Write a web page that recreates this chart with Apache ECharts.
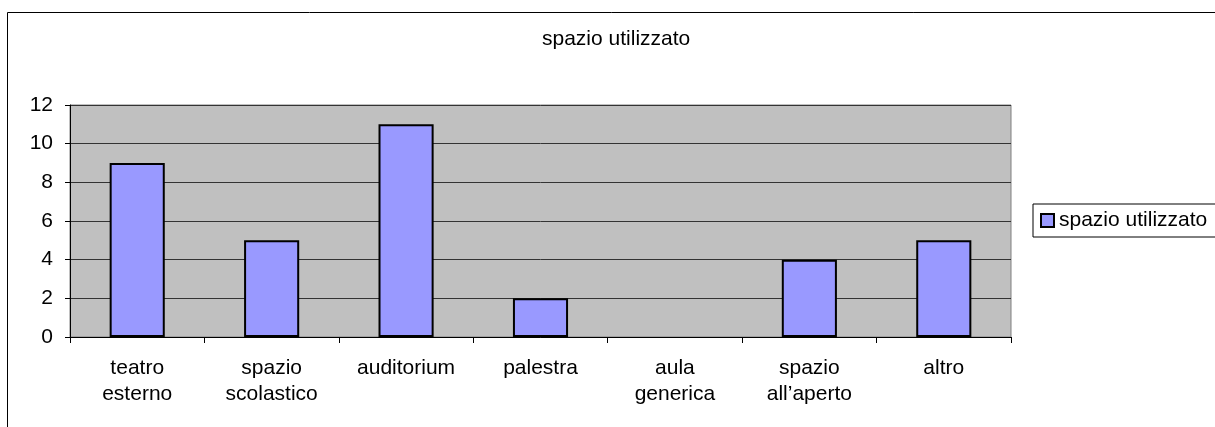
<!DOCTYPE html>
<html>
<head>
<meta charset="utf-8">
<script src="https://cdn.jsdelivr.net/npm/echarts@6/dist/echarts.min.js"></script>
<style>
  html, body { margin: 0; padding: 0; background: #fff; }
  #chart { width: 1215px; height: 427px; }
</style>
</head>
<body>
<div id="chart"></div>
<script>
const categories = ['teatro\nesterno', 'spazio\nscolastico', 'auditorium', 'palestra', 'aula\ngenerica', 'spazio\nall\u2019aperto', 'altro'];
const values = [9, 5, 11, 2, 0, 4, 5];
const seriesName = 'spazio utilizzato';
const yTicks = { min: 0, max: 12, interval: 2 };

const font = 'Liberation Sans, Arial, sans-serif';
const chart = echarts.init(document.getElementById('chart'), null, { renderer: 'canvas' });

// zero bars: no outline, like the original
const barData = values.map((v) => (v === 0 ? { value: v, itemStyle: { borderWidth: 0 } } : v));

chart.setOption({
  animation: false,
  backgroundColor: '#fff',
  title: {
    text: 'spazio utilizzato',
    left: 542,
    top: 29,
    padding: 0,
    textStyle: { fontFamily: font, fontSize: 21, fontWeight: 'normal', color: '#000' },
  },
  graphic: [{
    type: 'rect',
    shape: { x: 7.5, y: 12.5, width: 1400, height: 600 },
    style: { fill: 'none', stroke: '#000', lineWidth: 1 },
    z: -1,
  }],
  legend: {
    data: [seriesName],
    left: 1033,
    top: 204,
    padding: [6, 40, 6, 7],
    borderColor: '#000',
    borderWidth: 1,
    itemWidth: 13,
    itemHeight: 13,
    itemGap: 6,
    icon: 'rect',
    itemStyle: { color: '#9999ff', borderColor: '#000', borderWidth: 2 },
    textStyle: { fontFamily: font, fontSize: 21, color: '#000', padding: [0, 0, 0, 0] },
  },
  grid: {
    left: 70,
    top: 105,
    right: 204,
    bottom: 90,
    show: true,
    backgroundColor: '#c0c0c0',
    borderColor: '#808080',
    borderWidth: 1,
  },
  xAxis: {
    type: 'category',
    data: categories,
    axisLine: { lineStyle: { color: '#000', width: 1 } },
    axisTick: { show: true, length: 6, lineStyle: { color: '#000' } },
    axisLabel: { interval: 0, margin: 18, fontFamily: font, fontSize: 21, lineHeight: 26, color: '#000' },
  },
  yAxis: {
    type: 'value',
    min: yTicks.min,
    max: yTicks.max,
    interval: yTicks.interval,
    axisLine: { show: true, lineStyle: { color: '#000', width: 1 } },
    axisTick: { show: true, length: 5, lineStyle: { color: '#000' } },
    axisLabel: { margin: 17, fontFamily: font, fontSize: 21, color: '#000' },
    splitLine: { lineStyle: { color: '#333', width: 1 } },
  },
  series: [{
    name: seriesName,
    type: 'bar',
    data: barData,
    barCategoryGap: '59%',
    itemStyle: { color: '#9999ff', borderColor: '#000', borderWidth: 2 },
  }],
});
</script>
</body>
</html>
